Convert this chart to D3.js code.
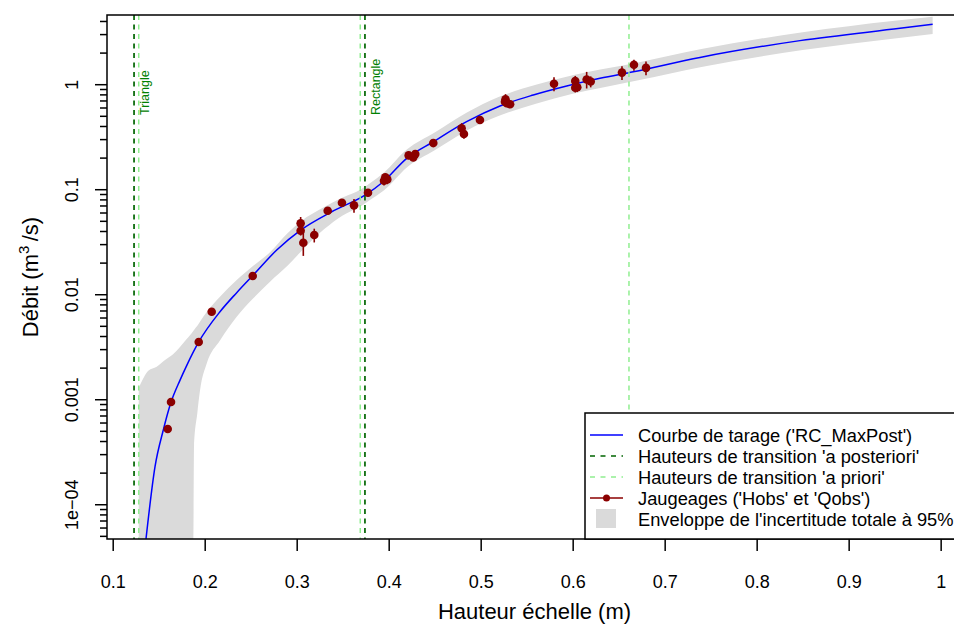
<!DOCTYPE html>
<html><head><meta charset="utf-8">
<script src="https://cdn.jsdelivr.net/npm/d3@7"></script>
<style>
body{margin:0;background:#fff}
svg{display:block}
text{font-family:"Liberation Sans",Arial,Helvetica,sans-serif}
</style>
</head><body>
<svg id="c" width="954" height="625"></svg>
<script>
// ---------------- DATA ----------------
const xTicks = [0.1, 0.2, 0.3, 0.4, 0.5, 0.6, 0.7, 0.8, 0.9, 1.0];
const xTickLabels = ["0.1", "0.2", "0.3", "0.4", "0.5", "0.6", "0.7", "0.8", "0.9", "1"];
const yTicks = [1e-4, 1e-3, 1e-2, 0.1, 1];
const yTickLabels = ["1e\u221204", "0.001", "0.01", "0.1", "1"];

// Rating curve (RC_MaxPost)
const curveH = [0.1362, 0.146, 0.155, 0.163, 0.1732, 0.1804, 0.1935, 0.2166, 0.2348, 0.2528, 0.2783, 0.3043, 0.338, 0.3742, 0.3941, 0.4196, 0.4485, 0.4847, 0.521, 0.5572, 0.5935, 0.6297, 0.6659, 0.7384, 0.8471, 0.9558, 0.9913];
const curveQ = [4.68e-5, 2.28e-4, 5.09e-4, 9.14e-4, 1.52e-3, 2.09e-3, 3.51e-3, 6.81e-3, 0.01035, 0.01524, 0.02636, 0.0408, 0.0610, 0.0877, 0.1178, 0.1968, 0.2831, 0.4395, 0.6201, 0.7889, 0.9616, 1.138, 1.315, 1.799, 2.600, 3.404, 3.715];

// 95% total uncertainty envelope
const envH    = [0.1283, 0.1387, 0.1478, 0.158, 0.1659, 0.1804, 0.1876, 0.1884, 0.192, 0.195, 0.2022, 0.2166, 0.2348, 0.2528, 0.271, 0.29, 0.304, 0.33, 0.35, 0.37, 0.38, 0.395, 0.42, 0.45, 0.485, 0.52, 0.56, 0.60, 0.63, 0.67, 0.74, 0.85, 0.95, 0.9913];
const envLow  = [0, 0, 0, 0, 0, 0, 0, 3.548e-4, 7.413e-4, 1.230e-3, 2.188e-3, 3.631e-3, 6.109e-3, 9.141e-3, 0.01318, 0.01862, 0.02512, 0.04169, 0.05623, 0.06918, 0.07943, 0.09772, 0.1622, 0.2344, 0.3631, 0.5012, 0.6531, 0.8128, 0.9226, 1.084, 1.462, 2.113, 2.723, 3.006];
const envHigh = [1.279e-3, 1.866e-3, 2.042e-3, 2.399e-3, 2.692e-3, 3.741e-3, 4.467e-3, 4.571e-3, 5.012e-3, 5.495e-3, 6.761e-3, 9.462e-3, 0.01365, 0.01862, 0.02512, 0.03802, 0.04898, 0.06761, 0.08318, 0.1, 0.1148, 0.1445, 0.2399, 0.3467, 0.5370, 0.7586, 0.9886, 1.216, 1.380, 1.603, 2.163, 3.126, 4.027, 4.395];

// Gaugings (Hobs, Qobs, relative uncertainty)
const hObs = [0.1598, 0.1634, 0.1935, 0.2076, 0.2522, 0.3043, 0.3043, 0.3072, 0.3191, 0.3337, 0.3492, 0.3623, 0.3775, 0.3949, 0.3963, 0.3985, 0.4217, 0.4267, 0.4289, 0.4485, 0.4793, 0.4818, 0.4992, 0.5264, 0.5270, 0.5283, 0.5320, 0.5797, 0.6028, 0.6028, 0.6050, 0.6152, 0.6196, 0.6536, 0.6666, 0.6797];
const qObs = [0.00052, 0.00094, 0.00351, 0.00681, 0.0149, 0.0473, 0.0402, 0.0309, 0.0366, 0.0624, 0.0744, 0.0702, 0.0926, 0.1205, 0.130, 0.124, 0.210, 0.201, 0.216, 0.275, 0.380, 0.336, 0.456, 0.681, 0.718, 0.658, 0.644, 1.01, 1.07, 0.926, 0.935, 1.11, 1.06, 1.29, 1.53, 1.43];
const uObs = [0.05, 0.05, 0.05, 0.05, 0.05, 0.15, 0.10, 0.25, 0.15, 0.08, 0.08, 0.15, 0.08, 0.10, 0.08, 0.10, 0.08, 0.08, 0.08, 0.08, 0.12, 0.10, 0.08, 0.08, 0.12, 0.08, 0.08, 0.15, 0.12, 0.10, 0.10, 0.18, 0.12, 0.15, 0.12, 0.15];

// Transition heights
const hPosterior = [0.1232, 0.3742];
const hPrior = [0.1283, 0.3691, 0.6612];
const segmentLabels = ["Triangle", "Rectangle"];

const legendLabels = [
  "Courbe de tarage ('RC_MaxPost')",
  "Hauteurs de transition 'a posteriori'",
  "Hauteurs de transition 'a priori'",
  "Jaugeages ('Hobs' et 'Qobs')",
  "Enveloppe de l'incertitude totale \u00e0 95%"
];

// ---------------- STYLE / LAYOUT ----------------
const L = 107, R = 962, T = 15, B = 539;
const colCurve = "#0000FF", colPost = "#006400", colPrior = "#90EE90",
      colObs = "#8B0000", colEnv = "#DADADA", colLab = "#008000";

const svg = d3.select("#c");
const x = d3.scaleLinear().domain([0.0938, 1.0232]).range([L, R]);
const y = d3.scaleLog().domain([Math.pow(10, -4.331), Math.pow(10, 0.659)]).range([B, T]);
const yMin = y.domain()[0];
const Y = q => (q > 0 ? y(Math.max(q, yMin * 0.5)) : y(yMin) + 2);

svg.append("defs").append("clipPath").attr("id", "clip")
  .append("rect").attr("x", L).attr("y", T).attr("width", R - L).attr("height", B - T);

const plot = svg.append("g").attr("clip-path", "url(#clip)");

// envelope
const envData = envH.map((h, i) => ({h, lo: envLow[i], hi: envHigh[i]}));
plot.append("path")
  .attr("d", d3.area().x(d => x(d.h)).y0(d => Y(d.lo)).y1(d => Y(d.hi)).curve(d3.curveMonotoneX)(envData))
  .attr("fill", colEnv).attr("stroke", "none");

// curve
const cData = curveH.map((h, i) => ({h, q: curveQ[i]}));
plot.append("path")
  .attr("d", d3.line().x(d => x(d.h)).y(d => Y(d.q)).curve(d3.curveMonotoneX)(cData))
  .attr("fill", "none").attr("stroke", colCurve).attr("stroke-width", 1.5);

// transition lines
plot.selectAll("line.prior").data(hPrior).enter().append("line")
  .attr("x1", d => x(d)).attr("x2", d => x(d)).attr("y1", T).attr("y2", B)
  .attr("stroke", colPrior).attr("stroke-width", 1.5).attr("stroke-dasharray", "5,4.5");
plot.selectAll("line.post").data(hPosterior).enter().append("line")
  .attr("x1", d => x(d)).attr("x2", d => x(d)).attr("y1", T).attr("y2", B)
  .attr("stroke", colPost).attr("stroke-width", 1.7).attr("stroke-dasharray", "5,4.5");

// segment labels
plot.selectAll("text.seg").data(hPosterior).enter().append("text")
  .attr("transform", d => `translate(${x(d) + 15},115) rotate(-90)`)
  .attr("font-size", 12.5).attr("fill", colLab)
  .text((d, i) => segmentLabels[i]);

// gaugings
const oData = hObs.map((h, i) => ({h, q: qObs[i], u: uObs[i]}));
plot.selectAll("line.err").data(oData).enter().append("line")
  .attr("x1", d => x(d.h)).attr("x2", d => x(d.h))
  .attr("y1", d => Y(d.q * (1 - d.u))).attr("y2", d => Y(d.q * (1 + d.u)))
  .attr("stroke", colObs).attr("stroke-width", 1.6);
plot.selectAll("circle.obs").data(oData).enter().append("circle")
  .attr("cx", d => x(d.h)).attr("cy", d => Y(d.q)).attr("r", 4.3)
  .attr("fill", colObs);

// axes
const xAxis = svg.append("g").attr("transform", `translate(0,${B})`)
  .call(d3.axisBottom(x).tickValues(xTicks).tickFormat((d, i) => xTickLabels[i]).tickSize(12).tickPadding(24));
xAxis.select(".domain").remove();
xAxis.selectAll("line").attr("stroke", "#000").attr("stroke-width", 1.5);
xAxis.selectAll("text").attr("font-size", 18).attr("fill", "#000").attr("font-family", null);

const minorY = [];
for (let e = -5; e <= 0; e++) for (let k = 2; k <= 9; k++) {
  const v = k * Math.pow(10, e);
  if (v >= y.domain()[0] && v <= y.domain()[1]) minorY.push(v);
}
const yMinor = svg.append("g").attr("transform", `translate(${L},0)`)
  .call(d3.axisLeft(y).tickValues(minorY).tickFormat("").tickSize(7));
yMinor.select(".domain").remove();
yMinor.selectAll("line").attr("stroke", "#000").attr("stroke-width", 1.5);

const yAxis = svg.append("g").attr("transform", `translate(${L},0)`)
  .call(d3.axisLeft(y).tickValues(yTicks).tickFormat((d, i) => yTickLabels[i]).tickSize(12));
yAxis.select(".domain").remove();
yAxis.selectAll("line").attr("stroke", "#000").attr("stroke-width", 1.5);
yAxis.selectAll("text").attr("x", null).attr("dy", null)
  .attr("transform", `translate(${78 - L},0) rotate(-90)`)
  .attr("text-anchor", "middle").attr("font-size", 18).attr("fill", "#000").attr("font-family", null);

// axis titles
svg.append("text").attr("x", (L + R) / 2).attr("y", 619).attr("text-anchor", "middle")
  .attr("font-size", 22).text("Hauteur \u00e9chelle (m)");
const yt = svg.append("text").attr("transform", `translate(38,${(T + B) / 2}) rotate(-90)`)
  .attr("text-anchor", "middle").attr("font-size", 22);
yt.append("tspan").text("D\u00e9bit (m");
yt.append("tspan").attr("dy", -9).attr("font-size", 15).text("3");
yt.append("tspan").attr("dy", 9).text("\u2009/s)");

// box
svg.append("rect").attr("x", L).attr("y", T).attr("width", R - L).attr("height", B - T)
  .attr("fill", "none").attr("stroke", "#000").attr("stroke-width", 1.5);

// legend
const lg = svg.append("g");
lg.append("rect").attr("x", 585).attr("y", 413).attr("width", R - 585).attr("height", B - 413)
  .attr("fill", "#fff").attr("stroke", "#000").attr("stroke-width", 1.5);
const ly = i => 435 + i * 21;
lg.append("line").attr("x1", 590).attr("x2", 623).attr("y1", ly(0)).attr("y2", ly(0))
  .attr("stroke", colCurve).attr("stroke-width", 1.5);
lg.append("line").attr("x1", 590).attr("x2", 623).attr("y1", ly(1)).attr("y2", ly(1))
  .attr("stroke", colPost).attr("stroke-width", 1.5).attr("stroke-dasharray", "5,5.5");
lg.append("line").attr("x1", 590).attr("x2", 623).attr("y1", ly(2)).attr("y2", ly(2))
  .attr("stroke", colPrior).attr("stroke-width", 1.5).attr("stroke-dasharray", "5,5.5");
lg.append("line").attr("x1", 590).attr("x2", 623).attr("y1", ly(3)).attr("y2", ly(3))
  .attr("stroke", colObs).attr("stroke-width", 1.5);
lg.append("circle").attr("cx", 606.5).attr("cy", ly(3)).attr("r", 3.5).attr("fill", colObs);
lg.append("rect").attr("x", 596).attr("y", ly(4) - 10).attr("width", 20).attr("height", 19).attr("fill", colEnv);
lg.selectAll("text.lg").data(legendLabels).enter().append("text")
  .attr("x", 638).attr("y", (d, i) => ly(i) + 6.5).attr("font-size", 18.3).text(d => d);
</script>
</body></html>
